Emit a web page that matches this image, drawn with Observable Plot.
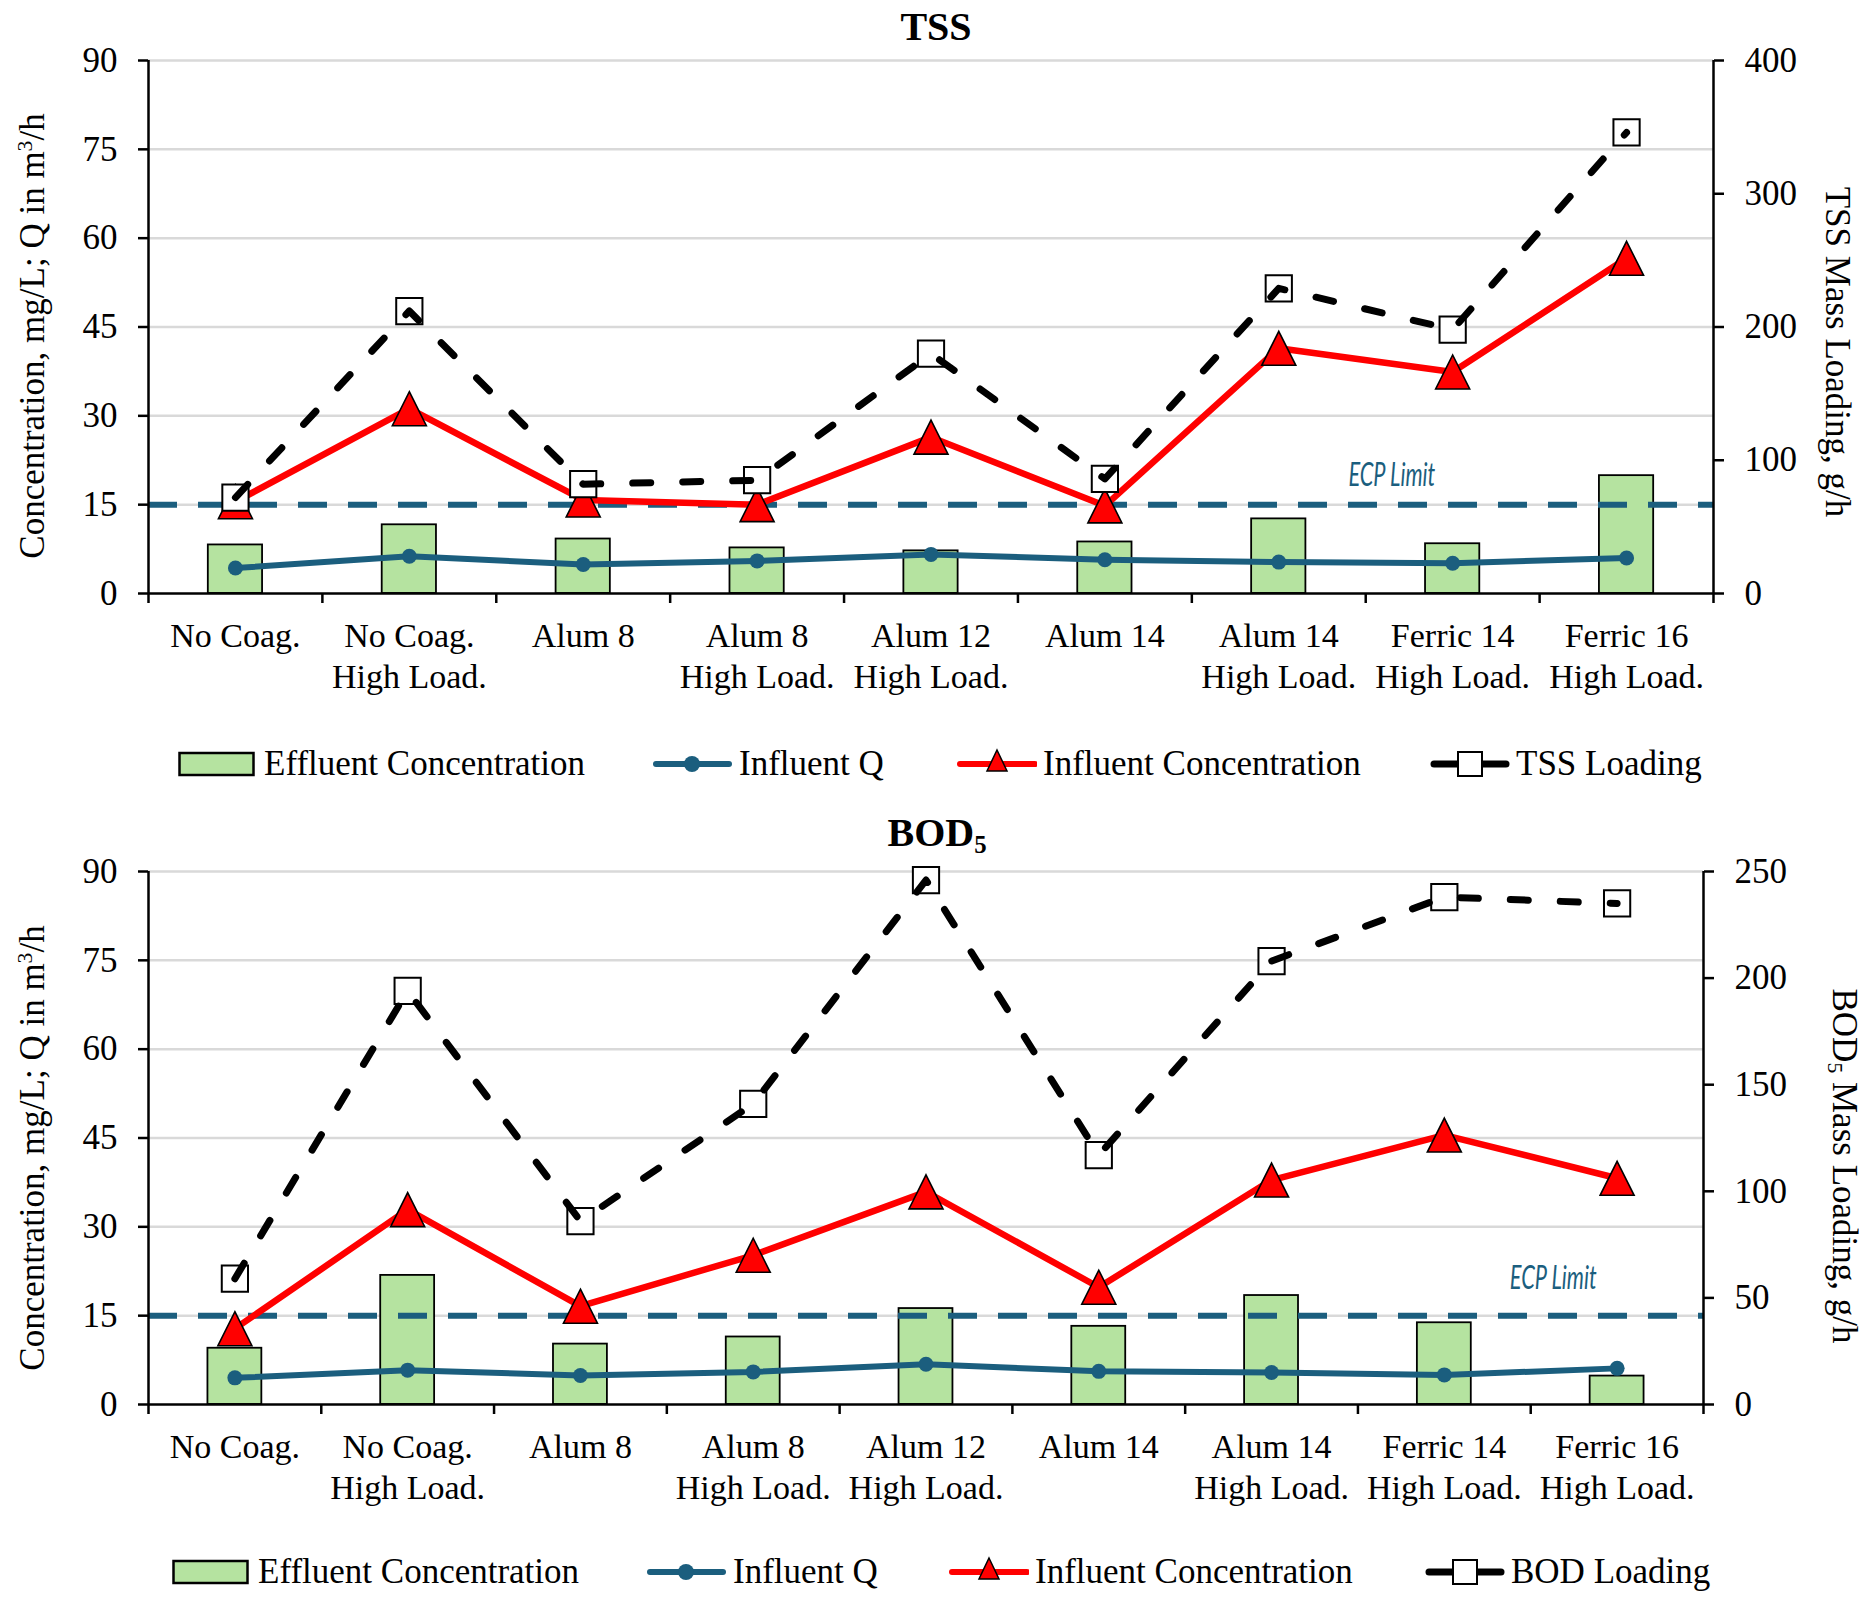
<!DOCTYPE html>
<html><head><meta charset="utf-8">
<script src="https://cdn.jsdelivr.net/npm/d3@7"></script>
<script src="https://cdn.jsdelivr.net/npm/@observablehq/plot@0.6"></script>
<style>
body{margin:0;background:#fff;width:1870px;height:1603px;position:relative;overflow:hidden;font-family:"Liberation Serif","Times New Roman",serif;color:#000;}
.abs{position:absolute;white-space:nowrap;}
.title{font-weight:bold;font-size:40px;transform:translate(-50%,-50%);}
.ytl{font-size:35px;transform:translate(-50%,-50%) rotate(-90deg);}
.ytr{font-size:35px;transform:translate(-50%,-50%) rotate(90deg);}
.sup{font-size:0.62em;vertical-align:0.55em;}
.sub{font-size:0.62em;vertical-align:-0.25em;}
.leg{position:absolute;display:flex;align-items:center;font-size:35px;white-space:nowrap;height:40px;}
.leg svg{display:block;}
</style></head><body>
<script>
// ---------- data ----------
const categories = ["No Coag.", "No Coag.\nHigh Load.", "Alum 8", "Alum 8\nHigh Load.", "Alum 12\nHigh Load.", "Alum 14", "Alum 14\nHigh Load.", "Ferric 14\nHigh Load.", "Ferric 16\nHigh Load."];
const leftTicks = [0, 15, 30, 45, 60, 75, 90];
const ecpLimit = 15;

const tssEffluent = [8.2, 11.6, 9.2, 7.7, 7.2, 8.7, 12.6, 8.4, 19.9];
const tssQ        = [4.3, 6.3, 4.9, 5.5, 6.6, 5.7, 5.3, 5.1, 6.0];
const tssInfluent = [15.5, 31.2, 15.8, 15.0, 26.4, 14.8, 41.4, 37.4, 56.6];
const tssLoading  = [72, 212, 82, 85, 180, 86, 229, 198, 346];
const tssLoadTicks = [0, 100, 200, 300, 400];

const bodEffluent = [9.5, 21.8, 10.2, 11.4, 16.2, 13.2, 18.4, 13.8, 4.8];
const bodQ        = [4.5, 5.8, 4.9, 5.5, 6.8, 5.6, 5.4, 5.0, 6.1];
const bodInfluent = [12.8, 32.9, 16.6, 25.2, 35.9, 19.8, 37.9, 45.5, 38.2];
const bodLoading  = [59, 194, 86, 141, 246, 117, 208, 238, 235];
const bodLoadTicks = [0, 50, 100, 150, 200, 250];

const tssLegend = ["Effluent Concentration", "Influent Q", "Influent Concentration", "TSS Loading"];
const bodLegend = ["Effluent Concentration", "Influent Q", "Influent Concentration", "BOD Loading"];

// ---------- styles ----------
const green = "#b5e3a0";
const blue = "#1b5e7e";
const barHalf = 0.156;

// isosceles triangle marker (width = height), centred on its bounding box
const triangleMarker = {
  draw(ctx, size) {
    const h = Math.sqrt(size / Math.PI) * 2.5;
    ctx.moveTo(0, -h / 2);
    ctx.lineTo(h / 2, h / 2);
    ctx.lineTo(-h / 2, h / 2);
    ctx.closePath();
  }
};

function chart({eff, q, inf, load, loadTicks, marginRight, ecpX, ecpDy}) {
  const loadMax = loadTicks[loadTicks.length - 1];
  const data = categories.map((c, i) => ({i, pos: i + 0.5, eff: eff[i], q: q[i], inf: inf[i], load: load[i] * 90 / loadMax}));
  const svg = Plot.plot({
    width: 1870, height: 60 + 533 + 110,
    marginTop: 60, marginBottom: 110, marginLeft: 148, marginRight,
    x: {type: "linear", domain: [0, 9], axis: null},
    y: {domain: [0, 90], axis: null},
    style: {fontFamily: "Liberation Serif, Times New Roman, serif", fontSize: "35px", color: "black", background: "transparent", overflow: "visible"},
    marks: [
      Plot.gridY(leftTicks.filter(t => t > 0), {stroke: "#d9d9d9", strokeOpacity: 1, strokeWidth: 2.5}),
      Plot.rectY(data, {x1: d => d.pos - barHalf, x2: d => d.pos + barHalf, y: "eff", fill: green, stroke: "black", strokeWidth: 1.8}),
      Plot.ruleY([ecpLimit], {stroke: blue, strokeWidth: 6, strokeDasharray: "29,21"}),
      Plot.text(["ECP Limit"], {x: ecpX, y: ecpLimit, dy: ecpDy, text: d => d, fill: blue, fontStyle: "italic", fontFamily: "Lato, Open Sans, sans-serif", fontSize: 32, textAnchor: "middle", className: "ecp"}),
      Plot.line(data, {x: "pos", y: "q", stroke: blue, strokeWidth: 6}),
      Plot.dot(data, {x: "pos", y: "q", r: 7.5, fill: blue}),
      Plot.line(data, {x: "pos", y: "inf", stroke: "#ff0000", strokeWidth: 6.5}),
      Plot.dot(data, {x: "pos", y: "inf", symbol: triangleMarker, r: 13.6, fill: "#ff0000", stroke: "black", strokeWidth: 1.6}),
      Plot.dot(data, {x: "pos", y: "load", symbol: "square", r: 14.8, fill: "white", stroke: "black", strokeWidth: 2}),
      Plot.line(data, {x: "pos", y: "load", stroke: "black", strokeWidth: 7, strokeDasharray: "18,32", strokeLinecap: "round"}),
      Plot.ruleX([0, 9], {stroke: "black", strokeWidth: 2.5}),
      Plot.ruleY([0], {stroke: "black", strokeWidth: 2.5}),
      Plot.axisY(leftTicks, {anchor: "left", tickSize: 10, tickPadding: 21, strokeWidth: 2.5, label: null, fontSize: 35}),
      Plot.axisY(loadTicks.map(v => v * 90 / loadMax), {anchor: "right", tickSize: 10, tickPadding: 21, strokeWidth: 2.5, label: null, fontSize: 35, tickFormat: d => String(Math.round(d * loadMax / 90))}),
      Plot.axisX(d3.range(10), {tickSize: 10, strokeWidth: 2.5, tickFormat: () => "", label: null}),
      Plot.axisX(data.map(d => d.pos), {tickSize: 0, tickPadding: 25, tickFormat: d => categories[Math.floor(d)], lineHeight: 1.2, fontSize: 34, label: null})
    ]
  });
  // condense the "ECP Limit" annotation horizontally (narrow italic face in the original)
  svg.querySelectorAll(".ecp text").forEach(t => {
    t.setAttribute("transform", (t.getAttribute("transform") || "") + " scale(0.68,1)");
  });
  return svg;
}

function place(el, top, left) {
  const w = document.createElement("div");
  w.className = "abs";
  w.style.top = top + "px"; w.style.left = left + "px";
  w.appendChild(el);
  document.body.appendChild(w);
}
function label(html, cls, x, y) {
  const d = document.createElement("div");
  d.className = "abs " + cls;
  d.style.left = x + "px"; d.style.top = y + "px";
  d.innerHTML = html;
  document.body.appendChild(d);
}
const NS = "http://www.w3.org/2000/svg";
function icon(kind) {
  const s = document.createElementNS(NS, "svg");
  s.setAttribute("width", 80); s.setAttribute("height", 40);
  let inner = "";
  if (kind === 0) inner = `<rect x="1.5" y="9" width="74" height="22" fill="${green}" stroke="black" stroke-width="2.5"/>`;
  if (kind === 1) inner = `<line x1="3" y1="20" x2="76" y2="20" stroke="${blue}" stroke-width="6" stroke-linecap="round"/><circle cx="39" cy="20" r="8" fill="${blue}"/>`;
  if (kind === 2) inner = `<line x1="3" y1="20" x2="78" y2="20" stroke="#ff0000" stroke-width="6" stroke-linecap="round"/><path d="M40,6 L50,27 L30,27 Z" fill="#ff0000" stroke="black" stroke-width="1.5"/>`;
  if (kind === 3) inner = `<line x1="4" y1="20" x2="76" y2="20" stroke="black" stroke-width="7" stroke-linecap="round"/><rect x="28" y="8" width="24" height="24" fill="white" stroke="black" stroke-width="2"/>`;
  s.innerHTML = inner;
  return s;
}
function legend(names, xs, cy) {
  names.forEach((n, k) => {
    const d = document.createElement("div");
    d.className = "leg";
    d.style.left = xs[k] + "px"; d.style.top = (cy - 20) + "px";
    d.appendChild(icon(k));
    const t = document.createElement("span");
    t.textContent = n;
    t.style.marginLeft = "6px";
    d.appendChild(t);
    document.body.appendChild(d);
  });
}

// ---------- top chart ----------
place(chart({eff: tssEffluent, q: tssQ, inf: tssInfluent, load: tssLoading, loadTicks: tssLoadTicks, marginRight: 157, ecpX: 7.15, ecpDy: -29}), 0, 0);
label("TSS", "title", 936, 26);
label("Concentration, mg/L; Q in m<span class='sup'>3</span>/h", "ytl", 33, 336);
label("TSS Mass Loading, g/h", "ytr", 1837, 352);
legend(tssLegend, [178, 653, 957, 1430], 764);

// ---------- bottom chart ----------
place(chart({eff: bodEffluent, q: bodQ, inf: bodInfluent, load: bodLoading, loadTicks: bodLoadTicks, marginRight: 167, ecpX: 8.13, ecpDy: -37}), 811, 0);
label("BOD<span class='sub'>5</span>", "title", 937, 834);
label("Concentration, mg/L; Q in m<span class='sup'>3</span>/h", "ytl", 33, 1148);
label("BOD<span class='sub'>5</span> Mass Loading, g/h", "ytr", 1843, 1166);
legend(bodLegend, [172, 647, 949, 1425], 1572);
</script>
</body></html>
